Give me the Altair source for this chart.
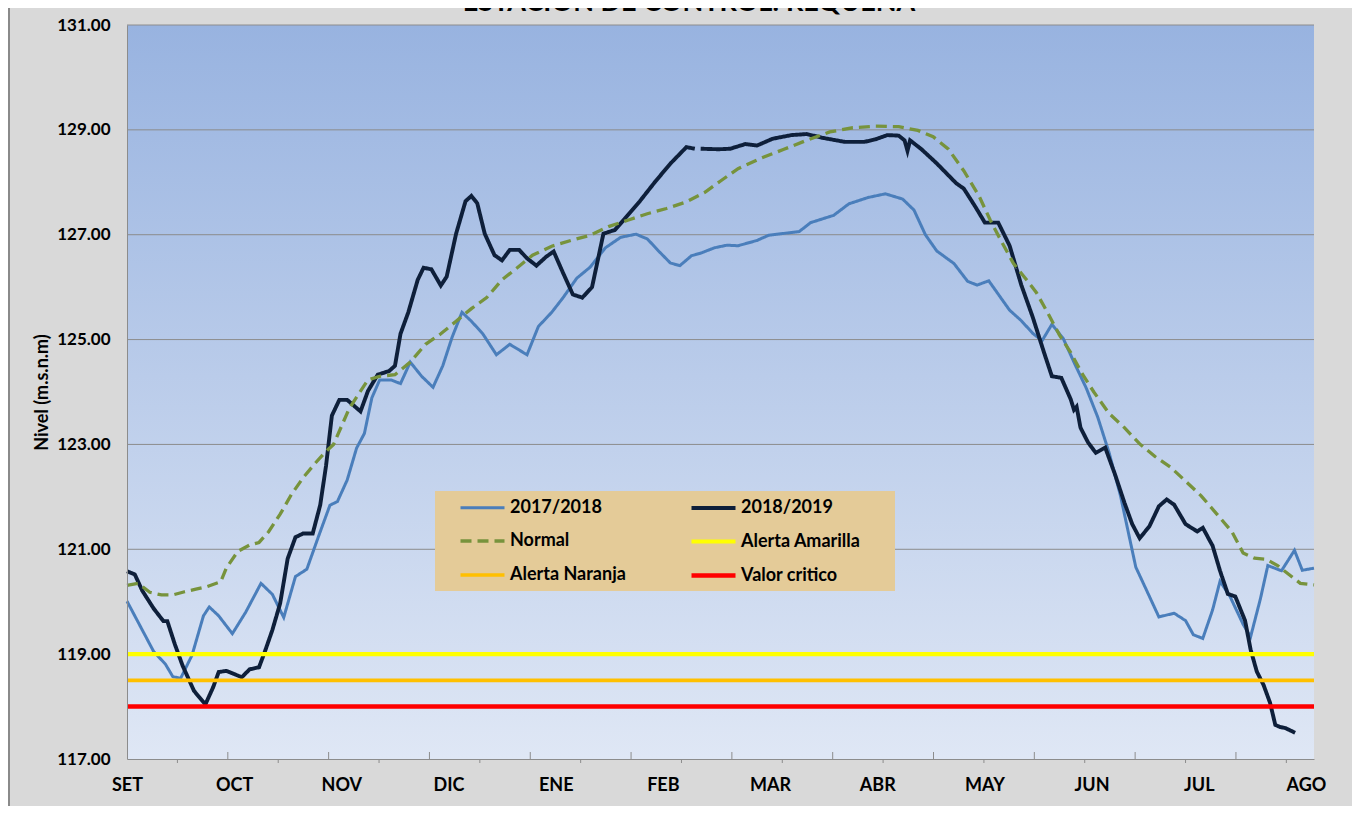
import json
import altair as alt
import pandas as pd

# ---------------- data ----------------
series_names = ["2017/2018", "2018/2019", "Normal", "Alerta Amarilla", "Alerta Naranja", "Valor critico"]
series_colors = ["#4a7ebb", "#0e1f3a", "#77933c", "#ffff00", "#ffc000", "#ff0000"]
series_widths = [3, 3, 4.5, 3, 3, 3]
series_dash = [[1, 0], [1, 0], [11, 6], [1, 0], [1, 0], [1, 0]]
# order in which the legend lists the series (filled column by column)
legend_order = [0, 2, 4, 1, 3, 5]

days_1718 = [0, 4.7, 8.2, 11.8, 14.1, 16.5, 20, 23.5, 25.3, 28.2, 32.4, 36.5, 41.2, 44.7, 48.2, 51.8,
             55.3, 58.8, 62.4, 64.7, 67.7, 70.6, 73, 75.3, 77.7, 81.2, 84.1, 87.1, 90.6, 94.1, 97.1,
             100, 103, 105.9, 109.4, 113.6, 117.7, 123, 126.5, 130.6, 134.1, 138.3, 142.4, 147.1,
             151.8, 156.5, 160, 163.6, 167.1, 170, 173.6, 176.5, 180.6, 184.5, 187.9, 193.7, 197.3,
             206.7, 210.2, 217.3, 222, 227.9, 233.2, 238.5, 242, 245.5, 249, 254.3, 258.5, 261.4,
             265, 271.4, 275, 278.5, 281.4, 284.4, 287.9, 291.4, 295, 298.5, 302, 305.5, 310.2,
             313.8, 317.3, 322, 325.5, 327.9, 330.8, 333.8, 336.1, 339.1, 343.2, 345.5, 348.5,
             350.8, 355, 359, 361.4, 365]
level_1718 = [120.01, 119.46, 119.05, 118.81, 118.57, 118.54, 118.98, 119.73, 119.9, 119.73, 119.39,
              119.80, 120.35, 120.14, 119.70, 120.48, 120.62, 121.23, 121.84, 121.91, 122.32, 122.93,
              123.21, 123.89, 124.23, 124.23, 124.16, 124.57, 124.30, 124.09, 124.50, 125.05, 125.52,
              125.35, 125.11, 124.71, 124.91, 124.71, 125.25, 125.52, 125.80, 126.17, 126.38, 126.75,
              126.95, 127.01, 126.92, 126.68, 126.46, 126.41, 126.60, 126.65, 126.75, 126.80, 126.79,
              126.89, 126.99, 127.06, 127.23, 127.37, 127.59, 127.71, 127.78, 127.68, 127.47, 127.0,
              126.69, 126.45, 126.11, 126.04, 126.12, 125.56, 125.36, 125.12, 124.98, 125.29, 125.02,
              124.54, 124.07, 123.52, 122.84, 122.02, 120.66, 120.18, 119.71, 119.78, 119.64, 119.37,
              119.30, 119.84, 120.39, 120.11, 119.57, 119.33, 120.05, 120.69, 120.59, 120.98, 120.60,
              120.64]

days_1819 = [0, 2.4, 4.7, 8.2, 11.2, 12.4, 14.7, 17.1, 20.6, 24.1, 26.5, 28.2, 30.6, 35.3, 37.7,
             40.6, 42.4, 44.7, 47.1, 49.4, 51.8, 54.1, 57.1, 59.4, 61.2, 63, 65.3, 67.7, 71.8, 74.1,
             77.1, 80.6, 82.4, 84.1, 86.5, 89.4, 91.2, 93.6, 96.5, 98.3, 101.2, 104.1, 105.9, 107.7,
             110, 113, 115.3, 117.7, 120.6, 123, 125.9, 128.9, 131.2, 134.1, 137.1, 140, 143, 146.5,
             150, 153, 157.7, 162.4, 167, 172, 174.6, 175.4, 176.4, 182, 185.5, 190.2, 193.7, 198.5,
             204.3, 209, 213.7, 220.8, 226.7, 230.2, 233.8, 237.3, 239.1, 240, 240.8, 244.3, 249,
             255, 257.3, 260.8, 263.8, 267.9, 271.4, 275, 278.5, 282, 284.4, 287.3, 290.2, 291.2,
             292, 293.2, 295.5, 297.9, 300.8, 303.8, 306.7, 309.1, 311.4, 314.4, 317.3, 319.7, 322,
             325.5, 329.1, 330.8, 333.8, 336.1, 338.5, 340.8, 343.8, 345.5, 347.4, 349.5, 351.5,
             353.1, 354.6, 356.2, 359.2]
level_1819 = [120.58, 120.52, 120.21, 119.87, 119.63, 119.63, 119.19, 118.78, 118.30, 118.04, 118.37,
              118.66, 118.68, 118.56, 118.71, 118.75, 119.05, 119.46, 119.97, 120.82, 121.23, 121.30,
              121.30, 121.84, 122.59, 123.55, 123.85, 123.85, 123.63, 124.02, 124.33, 124.40, 124.50,
              125.11, 125.52, 126.14, 126.37, 126.34, 126.03, 126.20, 127.02, 127.64, 127.74, 127.60,
              127.02, 126.61, 126.51, 126.71, 126.71, 126.55, 126.41, 126.58, 126.68, 126.27, 125.86,
              125.80, 126.0, 127.02, 127.09, 127.30, 127.64, 128.01, 128.35, 128.67, 128.64, None,
              128.64, 128.63, 128.64, 128.73, 128.70, 128.83, 128.90, 128.92, 128.85, 128.77, 128.77,
              128.82, 128.90, 128.89, 128.80, 128.60, 128.80, 128.63, 128.36, 127.98, 127.88, 127.54,
              127.23, 127.23, 126.79, 126.04, 125.43, 124.75, 124.30, 124.27, 123.86, 123.66, 123.72,
              123.32, 123.04, 122.84, 122.94, 122.43, 121.89, 121.48, 121.21, 121.44, 121.82, 121.95,
              121.85, 121.48, 121.34, 121.41, 121.07, 120.59, 120.15, 120.10, 119.64, 119.09, 118.67,
              118.41, 118.07, 117.65, 117.61, 117.59, 117.50]

days_normal = [0, 3.5, 7, 10.6, 14.1, 17.7, 21.2, 24.7, 28.8, 30.6, 34.1, 37.7, 40.6, 43.5, 47.1,
               50.6, 54.1, 57.7, 60.6, 63.5, 65.9, 68.3, 71.2, 74.1, 77.7, 82.4, 87.1, 91.8, 96.5,
               101.2, 105.9, 110.6, 115.3, 120, 124.7, 130.6, 136.5, 142.4, 148.3, 154.2, 160,
               165.9, 171.8, 177.7, 182.4, 187.9, 195, 202, 209, 216.1, 223.2, 230.2, 237.3, 243.2,
               247.9, 252.6, 257.3, 262, 265.5, 269, 272.6, 276.1, 279.6, 283.2, 286.7, 290.2,
               293.8, 297.3, 302, 306.7, 311.4, 316.1, 320.8, 325.5, 330.3, 335, 339.7, 343.2,
               346.7, 350.3, 353.8, 357.3, 360.8, 365]
level_normal = [120.31, 120.35, 120.18, 120.13, 120.13, 120.19, 120.24, 120.29, 120.38, 120.65,
                120.96, 121.08, 121.13, 121.33, 121.67, 122.05, 122.36, 122.63, 122.83, 123.00,
                123.34, 123.68, 123.96, 124.23, 124.30, 124.33, 124.57, 124.91, 125.11, 125.35,
                125.59, 125.80, 126.14, 126.37, 126.61, 126.78, 126.89, 126.99, 127.16, 127.28,
                127.40, 127.50, 127.62, 127.81, 128.02, 128.26, 128.46, 128.63, 128.80, 128.96,
                129.04, 129.07, 129.06, 128.99, 128.87, 128.63, 128.22, 127.74, 127.27, 126.86,
                126.45, 126.18, 125.90, 125.50, 125.09, 124.75, 124.34, 124.00, 123.59, 123.32,
                123.01, 122.77, 122.57, 122.30, 122.02, 121.68, 121.34, 120.93, 120.83, 120.81,
                120.69, 120.52, 120.35, 120.32]

threshold_levels = [119.0, 118.5, 118.0]
threshold_days = [0, 365]

month_labels = ["SET", "OCT", "NOV", "DIC", "ENE", "FEB", "MAR", "ABR", "MAY", "JUN", "JUL", "AGO"]
label_step = 32.957
label_days = [round(i * label_step, 3) for i in range(len(month_labels))]
tick_days = [round(k * 15.5, 2) for k in range(1, 24)]
y_ticks = [117, 119, 121, 123, 125, 127, 129, 131]

title_text = "ESTACION DE CONTROL: REQUENA"
y_title = "Nivel (m.s.n.m)"

# ---------------- tables ----------------
rows = []
for name, dd, vv in [(series_names[0], days_1718, level_1718),
                     (series_names[1], days_1819, level_1819),
                     (series_names[2], days_normal, level_normal)]:
    for d, v in zip(dd, vv):
        rows.append({"series": name, "day": d, "level": v})
lines_df = pd.DataFrame(rows)

trows = []
for name, lv in zip(series_names[3:], threshold_levels):
    for d in threshold_days:
        trows.append({"series": name, "day": d, "level": lv})
thr_df = pd.DataFrame(trows)

ticks_df = pd.DataFrame({"day": tick_days, "k": list(range(1, 24))})
grid_df = pd.DataFrame({"level": y_ticks[1:]})
one = pd.DataFrame({"a": [0]})

W, H = 1187, 734
FONT = "Lato"

label_expr = json.dumps(month_labels) + "[round(datum.value / %s)]" % label_step

x_enc = alt.X("day:Q",
              scale=alt.Scale(domain=[0, 365], nice=False, zero=False),
              axis=alt.Axis(values=label_days, labelExpr=label_expr, ticks=False, grid=False,
                            domainColor="#8c8c8c", domainWidth=1, labelFont=FONT, labelFontSize=18,
                            labelFontWeight="bold", labelColor="#000000", labelPadding=17,
                            labelFlush=False, labelOverlap=False, title=None, zindex=1))
y_enc = alt.Y("level:Q",
              scale=alt.Scale(domain=[117, 131], nice=False, zero=False),
              axis=alt.Axis(values=y_ticks, format=".2f", grid=False, ticks=False,
                            domainColor="#8c8c8c", domainWidth=1, labelFont=FONT, labelFontSize=17,
                            labelFontWeight="bold", labelColor="#000000", labelPadding=17,
                            title=y_title, titleFont=FONT, titleFontSize=18, titleFontWeight="bold",
                            titleColor="#000000", titleX=-85, titleY=H / 2, titleAngle=-90,
                            titleBaseline="middle", titleAlign="center", zindex=1))

legend = alt.Legend(orient="none", legendX=331, legendY=459, columns=2, title=None,
                    symbolType="stroke", symbolSize=44 * 44, symbolStrokeWidth=3.5,
                    labelFont=FONT, labelFontSize=18, labelFontWeight="bold", labelColor="#000000",
                    labelOffset=3, columnPadding=56, rowPadding=0, padding=0,
                    labelLimit=300)

dom = [series_names[i] for i in legend_order]
color_enc = alt.Color("series:N", scale=alt.Scale(domain=dom, range=[series_colors[i] for i in legend_order]),
                      legend=legend)
dash_enc = alt.StrokeDash("series:N", scale=alt.Scale(domain=dom, range=[series_dash[i] for i in legend_order]),
                          legend=legend)
width_enc = alt.StrokeWidth("series:N", scale=alt.Scale(domain=dom, range=[series_widths[i] for i in legend_order]),
                            legend=legend)

gradient = alt.Gradient(gradient="linear",
                        stops=[alt.GradientStop(color="#98b3e0", offset=0),
                               alt.GradientStop(color="#dfe7f5", offset=1)],
                        x1=0, x2=0, y1=0, y2=1)

bg = alt.Chart(one).mark_rect(fill=gradient).encode(
    x=alt.value(0), x2=alt.value(W), y=alt.value(0), y2=alt.value(H))

grid = alt.Chart(grid_df).mark_rule(color="#8c8c8c", strokeWidth=1).encode(y=y_enc)

ticks_down = alt.Chart(ticks_df).transform_filter("datum.k % 2 == 1").mark_rule(
    color="#8c8c8c", strokeWidth=1).encode(x=x_enc, y=alt.value(H), y2=alt.value(H + 4))
ticks_up = alt.Chart(ticks_df).transform_filter("datum.k % 2 == 0").mark_rule(
    color="#8c8c8c", strokeWidth=1).encode(x=x_enc, y=alt.value(H - 7), y2=alt.value(H))

legend_box = alt.Chart(one).mark_rect(fill="#e4cb98").encode(
    x=alt.value(308), x2=alt.value(768), y=alt.value(466), y2=alt.value(566))

lines = alt.Chart(lines_df).mark_line(strokeCap="butt", invalid="break-paths-filter-domains").encode(
    x=x_enc, y=y_enc, color=color_enc, strokeDash=dash_enc, strokeWidth=width_enc, detail="series:N")

thr = alt.Chart(thr_df).mark_line(strokeCap="butt").encode(
    x=x_enc, y=y_enc, color=color_enc, strokeDash=dash_enc, strokeWidth=width_enc)

title = alt.Chart(one).mark_text(font=FONT, fontSize=27, fontWeight="bold", align="center",
                                 baseline="alphabetic", color="#000000").encode(
    x=alt.value(562), y=alt.value(-14), text=alt.value(title_text))

border = alt.Chart(one).mark_rule(color="#8a8a8a", strokeWidth=2).encode(
    x=alt.value(-118), y=alt.value(-17), y2=alt.value(H + 47))

chart = alt.layer(bg, grid, ticks_down, ticks_up, legend_box, lines, thr, title, border).properties(
    width=W, height=H,
    autosize=alt.AutoSizeParams(type="none"),
    padding={"left": 119, "top": 17, "right": 38, "bottom": 47},
    background="#d9d9d9",
).configure_view(stroke=None)

chart.save("out.html", embed_options={"renderer": "svg", "actions": False})
